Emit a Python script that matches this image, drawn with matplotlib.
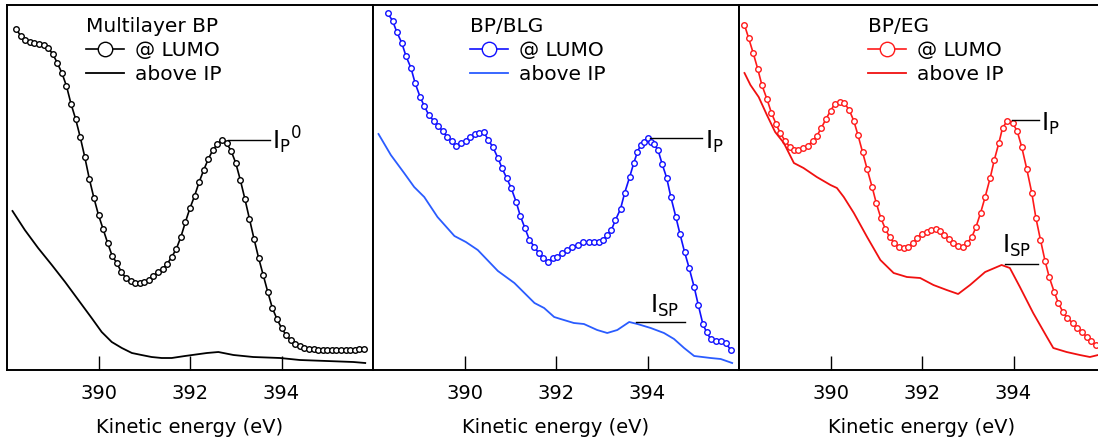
"""Three-panel NEXAFS-style spectra: @ LUMO vs above IP for BP, BP/BLG and BP/EG."""

import numpy as np
import matplotlib.pyplot as plt

# ---- data (energy in eV, intensity in arb. units) ----
ml_lumo_x = np.round(np.arange(388.2, 395.85, 0.1), 1)
ml_lumo_y = [341, 334, 330, 328, 327, 326, 325, 322, 316,
             307, 297, 284, 266, 251, 233, 213, 191, 172, 155,
             141, 127, 114, 107, 98, 92, 89, 87, 87, 88,
             90, 94, 98, 101, 106, 113, 121, 133, 148, 162,
             174, 188, 200, 211, 220, 226, 230, 227, 219, 207,
             190, 171, 151, 131, 112, 95, 78, 62, 51, 42,
             35, 30, 26.5, 24, 22.5, 21.5, 21, 20.5, 20, 20,
             20, 20, 20, 20, 20, 20.5, 21, 21]
ml_ip_x = [388.12, 388.39, 388.68, 388.98, 389.27, 389.56, 389.85, 390.07,
           390.29, 390.51, 390.73, 390.94, 391.16, 391.38, 391.60, 391.89,
           392.37, 392.62, 392.95, 393.38, 393.97, 394.40, 394.99, 395.57,
           395.83]
ml_ip_y = [159, 140, 122, 105, 88, 70, 52, 38, 28, 22, 17, 15, 13, 12, 12,
           14, 17, 18, 15, 13, 12, 10, 9, 8, 7]

blg_lumo_x = [388.32, 388.43, 388.52, 388.63, 388.72, 388.83, 388.92, 389.03,
              389.12, 389.22, 389.33, 389.43, 389.52, 389.62, 389.72, 389.81,
              389.92, 390.03, 390.13, 390.23, 390.32, 390.42, 390.52, 390.62,
              390.73, 390.82, 390.92, 391.02, 391.13, 391.22, 391.32, 391.42,
              391.53, 391.62, 391.72, 391.82, 391.93, 392.03, 392.14, 392.25,
              392.36, 392.47, 392.60, 392.72, 392.83, 392.94, 393.03, 393.12,
              393.21, 393.30, 393.41, 393.50, 393.61, 393.70, 393.78, 393.85,
              393.92, 394.01, 394.08, 394.14, 394.23, 394.32, 394.42, 394.51,
              394.62, 394.71, 394.81, 394.91, 395.02, 395.11, 395.21, 395.29,
              395.38, 395.49, 395.60, 395.71, 395.82]
blg_lumo_y = [357, 349, 338, 327, 314, 302, 287, 273, 264, 255, 249, 244, 239,
              233, 229, 224, 227, 229, 233, 236, 237, 238, 230, 223, 212, 202,
              192, 182, 168, 154, 142, 130, 123, 117, 112, 108, 112, 113, 117,
              120, 123, 125, 128, 128, 128, 128, 130, 135, 140, 150, 161, 177,
              193, 207, 218, 225, 228, 232, 228, 226, 220, 206, 192, 173, 153,
              136, 118, 102, 83, 65, 46, 38, 31, 29, 29, 27, 20]
blg_ip_x = [388.12, 388.39, 388.68, 388.90, 389.12, 389.41, 389.78, 390.03,
            390.29, 390.73, 391.09, 391.53, 391.74, 391.96, 392.10, 392.39,
            392.61, 392.90, 393.12, 393.34, 393.60, 393.78, 394.07, 394.36,
            394.58, 394.80, 395.02, 395.38, 395.60, 395.85]
blg_ip_y = [236, 215, 197, 183, 173, 153, 134, 128, 120, 99, 87, 67, 62, 53,
            51, 47, 46, 40, 37, 40, 48, 46, 42, 37, 31, 22, 14, 12, 11, 7]

eg_lumo_x = [388.12, 388.21, 388.31, 388.41, 388.50, 388.61, 388.71, 388.81,
             388.90, 389.01, 389.11, 389.21, 389.30, 389.40, 389.50, 389.61,
             389.70, 389.80, 389.90, 390.00, 390.09, 390.20, 390.30, 390.41,
             390.51, 390.60, 390.70, 390.80, 390.91, 391.00, 391.10, 391.20,
             391.29, 391.39, 391.49, 391.60, 391.69, 391.80, 391.89, 391.99,
             392.10, 392.20, 392.30, 392.39, 392.49, 392.59, 392.68, 392.79,
             392.89, 392.99, 393.09, 393.18, 393.28, 393.38, 393.49, 393.58,
             393.68, 393.76, 393.86, 393.98, 394.08, 394.18, 394.29, 394.40,
             394.49, 394.59, 394.69, 394.78, 394.89, 394.98, 395.08, 395.18,
             395.29, 395.39, 395.50, 395.60, 395.69, 395.80]
eg_lumo_y = [345, 332, 317, 301, 285, 271, 257, 246, 237, 229, 223, 220, 220,
             222, 224, 229, 234, 242, 251, 259, 266, 268, 267, 260, 249, 235,
             218, 201, 183, 167, 152, 141, 133, 127, 123, 122, 123, 127, 132,
             136, 138, 140, 141, 139, 135, 131, 127, 124, 123, 127, 133, 143,
             157, 173, 192, 210, 227, 242, 249, 247, 239, 223, 201, 177, 152,
             130, 109, 93, 78, 67, 58, 52, 47, 42, 38, 33, 29, 25]
eg_ip_x = [388.12, 388.25, 388.43, 388.61, 388.79, 388.98, 389.20, 389.41,
           389.70, 390.00, 390.14, 390.29, 390.51, 390.80, 391.09, 391.38,
           391.67, 391.96, 392.25, 392.54, 392.79, 393.05, 393.38, 393.74,
           393.92, 394.14, 394.43, 394.73, 394.87, 395.16, 395.45, 395.67,
           395.85]
eg_ip_y = [297, 285, 273, 255, 238, 227, 207, 202, 193, 185, 182, 173, 157,
           133, 110, 97, 93, 92, 85, 80, 76, 85, 98, 105, 102, 83, 57, 33,
           22, 18, 15, 13, 15]

titles = ["Multilayer BP", "BP/BLG", "BP/EG"]
xticks = [390, 392, 394]

W, H = 1098, 445
fig = plt.figure(figsize=(W / 100, H / 100), dpi=100)
plt.rcParams["font.family"] = "DejaVu Sans"

panel_left = [7, 373, 739]
axes = [fig.add_axes([l / W, 75 / H, 366 / W, 365 / H]) for l in panel_left]

panels = [
    (ml_lumo_x, ml_lumo_y, ml_ip_x, ml_ip_y, "black", "black", 0.215),
    (blg_lumo_x, blg_lumo_y, blg_ip_x, blg_ip_y, "#1010ff", "#2a5cff", 0.265),
    (eg_lumo_x, eg_lumo_y, eg_ip_x, eg_ip_y, "#ff1a1a", "#f01010", 0.352),
]

for ax, title, (lx, ly, ix, iy, c1, c2, legx) in zip(axes, titles, panels):
    ax.plot(lx, ly, "-o", color=c1, lw=1.2, ms=4, mfc="white", mec=c1,
            mew=1.0, label="@ LUMO")
    ax.plot(ix, iy, "-", color=c2, lw=1.3, label="above IP")
    ax.set_xlim(388, 396)
    ax.set_ylim(0, 365)
    ax.set_xticks(xticks)
    ax.set_yticks([])
    ax.tick_params(axis="x", direction="in", length=10, width=1,
                   labelsize=14, pad=10)
    for s in ax.spines.values():
        s.set_linewidth(1.4)
    ax.set_xlabel("Kinetic energy (eV)", fontsize=14, labelpad=11)
    ax.legend(loc="upper left", bbox_to_anchor=(legx, 0.968),
              frameon=False, title=title, title_fontsize=14.5,
              fontsize=14.5, handlelength=1.9, handletextpad=0.55,
              labelspacing=0.25, borderpad=0, borderaxespad=0,
              markerscale=2.6, alignment="left")

# peak / shoulder markers
axes[0].plot([392.83, 393.74], [230, 230], color="black", lw=1)
axes[0].text(393.8, 230, r"$\mathregular{I_P{}^0}$", fontsize=17,
             va="center", ha="left")

axes[1].plot([394.05, 395.2], [232, 232], color="black", lw=1)
axes[1].text(395.25, 228, r"$\mathregular{I_P}$", fontsize=17,
             va="center", ha="left")
axes[1].plot([393.74, 394.83], [48, 48], color="black", lw=1)
axes[1].text(394.05, 64, r"$\mathregular{I_{SP}}$", fontsize=17,
             va="center", ha="left")

axes[2].plot([393.96, 394.56], [250, 250], color="black", lw=1)
axes[2].text(394.6, 246, r"$\mathregular{I_P}$", fontsize=17,
             va="center", ha="left")
axes[2].plot([393.81, 394.54], [106, 106], color="black", lw=1)
axes[2].text(393.75, 124, r"$\mathregular{I_{SP}}$", fontsize=17,
             va="center", ha="left")

fig.savefig("out.png", dpi=100)
